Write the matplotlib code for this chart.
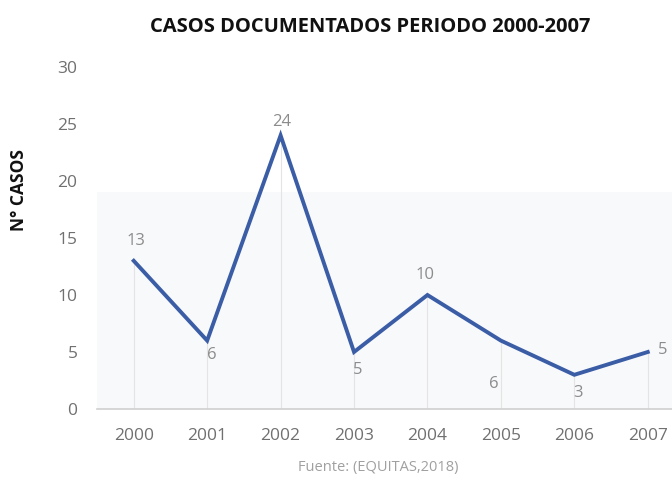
import matplotlib
matplotlib.use("Agg")
import matplotlib.pyplot as plt
from matplotlib.patches import Rectangle

years = ["2000", "2001", "2002", "2003", "2004", "2005", "2006", "2007"]
cases = [13, 6, 24, 5, 10, 6, 3, 5]
yticks = [0, 5, 10, 15, 20, 25, 30]
# label placement: (dx px, dy px)
label_offsets = [(2, 20), (5, -14), (1, 13), (4, -18), (-2, 20), (-7, -43), (4, -18), (15, 2)]

plt.rcParams['font.family'] = ['Open Sans', 'DejaVu Sans']

fig = plt.figure(figsize=(6.72, 4.8), dpi=100)
ax = fig.add_axes([97/672, 1 - 409/480, (672 - 97)/672, (409 - 67)/480])

x = list(range(len(years)))
ax.set_xlim(-0.5, 7.33)
ax.set_ylim(0, 30)

# faint background band
ax.add_patch(Rectangle((-0.5, 0), 7.83, 19, facecolor="#f8f9fb", edgecolor="none", zorder=0))

for xi, v in zip(x, cases):
    ax.plot([xi, xi], [0, v], color="#e4e4e4", lw=0.8, zorder=1)

ax.plot(x, cases, color="#3a5da6", lw=2.8, zorder=3, solid_joinstyle="miter")

for xi, v, (dx, dy) in zip(x, cases, label_offsets):
    ax.annotate(str(v), (xi, v), xytext=(dx * 0.72, dy * 0.72), textcoords="offset points",
                ha="center", va="center", fontsize=12, color="#8c8c8c", zorder=4)

ax.set_xticks(x)
ax.set_xticklabels(years)
ax.set_yticks(yticks)
ax.tick_params(axis="both", length=0, labelsize=12.5, labelcolor="#707070")
ax.tick_params(axis="x", pad=14)
ax.tick_params(axis="y", pad=14)
for s in ["top", "right", "left"]:
    ax.spines[s].set_visible(False)
ax.spines["bottom"].set_color("#d0d0d0")
ax.spines["bottom"].set_linewidth(1.2)
ax.patch.set_alpha(0)

ax.set_ylabel("N° CASOS", fontsize=12.5, fontweight="bold", color="#111111")
ax.yaxis.set_label_coords(-97/575 + 28/575, (409 - 190) / 342)

fig.text(370/672, 1 - 27/480, "CASOS DOCUMENTADOS PERIODO 2000-2007", ha="center", va="center",
         fontsize=14.5, fontweight="bold", color="#111111")
fig.text(378/672, 1 - 468/480, "Fuente: (EQUITAS,2018)", ha="center", va="center",
         fontsize=10.5, color="#a0a0a0")

fig.savefig("out.png", dpi=100)
